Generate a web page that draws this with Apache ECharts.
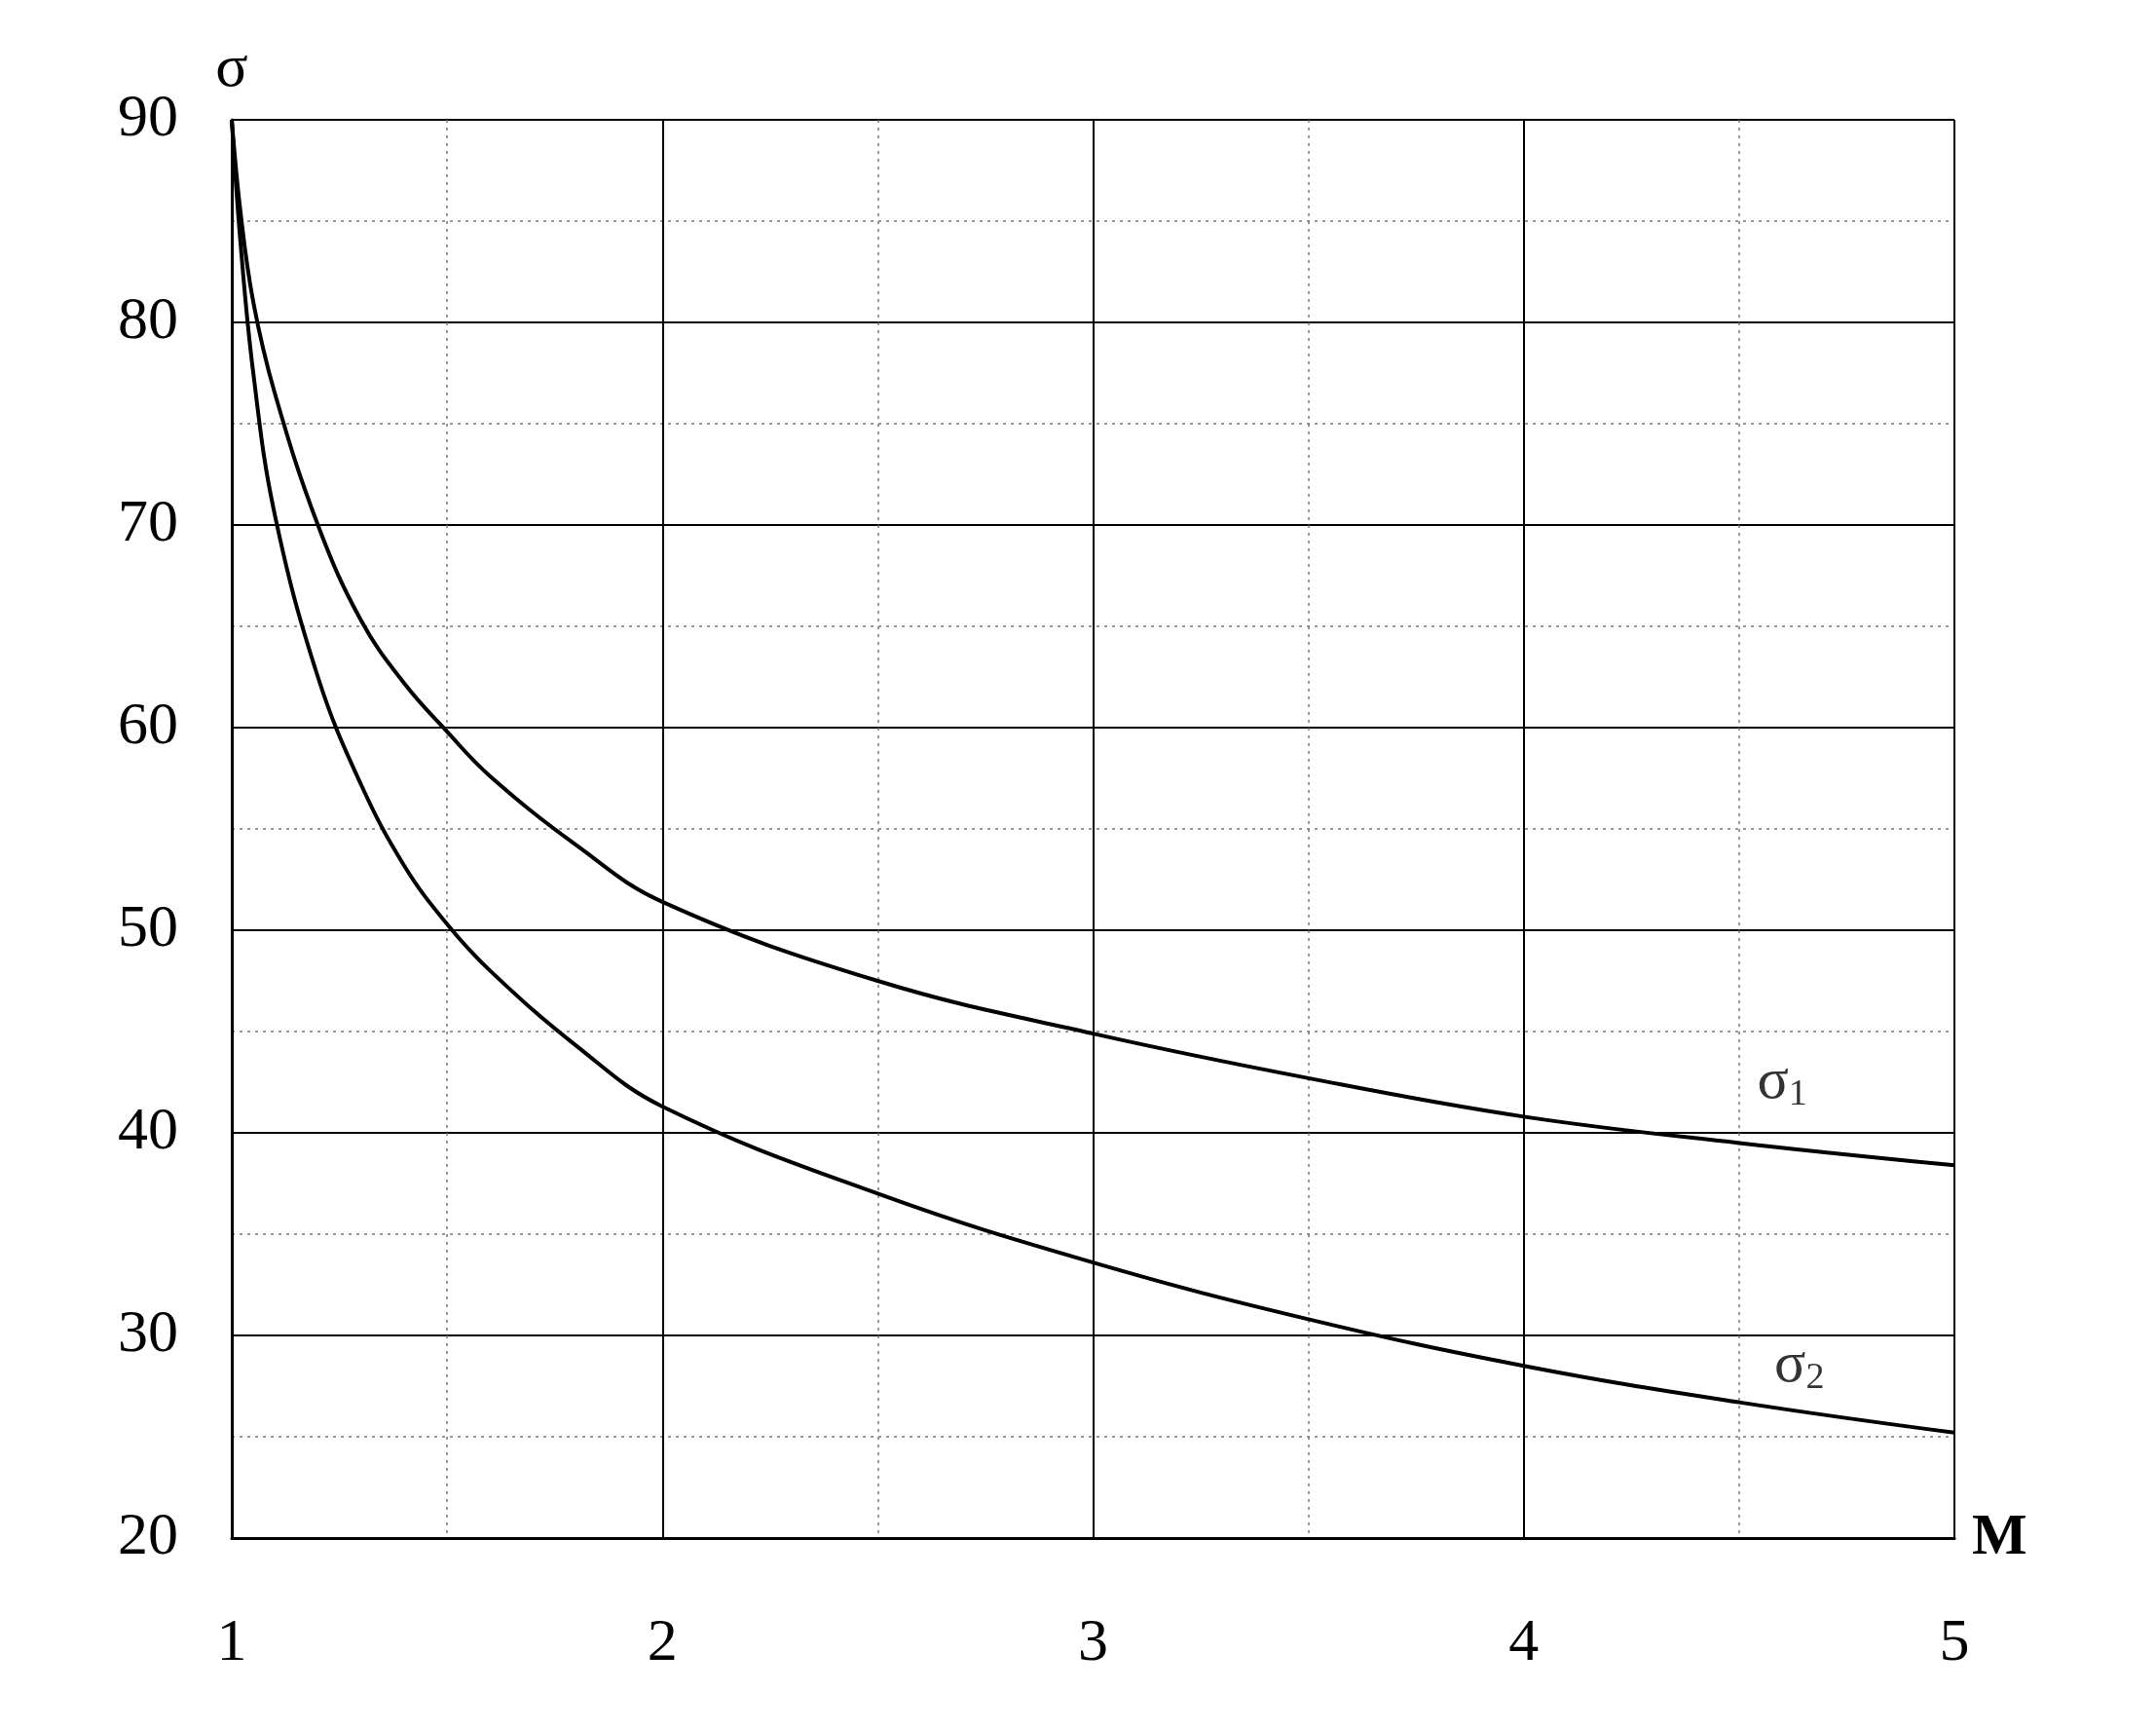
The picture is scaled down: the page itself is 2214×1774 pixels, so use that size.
<!DOCTYPE html>
<html>
<head>
<meta charset="utf-8">
<script src="https://cdn.jsdelivr.net/npm/echarts@6/dist/echarts.min.js"></script>
<style>html,body{margin:0;padding:0;background:#fff}#chart{width:2214px;height:1774px}</style>
</head>
<body>
<div id="chart"></div>
<script>
// M values and sigma curves
var mach = [1, 1.02, 1.05, 1.1, 1.2, 1.3, 1.4, 1.5, 1.6, 1.8, 2, 2.5, 3, 3.5, 4, 4.5, 5];
var sigma1 = [90, 85.5, 81, 76.5, 70, 65.3, 62.2, 59.8, 57.6, 54.2, 51.4, 47.5, 44.9, 42.7, 40.8, 39.5, 38.4];
var sigma2 = [90, 84, 77.5, 70.5, 62.5, 57.2, 53.2, 50.3, 48, 44.3, 41.3, 37, 33.6, 30.8, 28.5, 26.7, 25.2];
var xTicks = [1, 2, 3, 4, 5];
var yTicks = [20, 30, 40, 50, 60, 70, 80, 90];
var curveLabels = [[4.6, 42.5, '1'], [4.64, 28.5, '2']];

var font = '"Liberation Serif", "DejaVu Serif", serif';
var chart = echarts.init(document.getElementById('chart'));

function pairs(xs, ys) {
    var out = [];
    for (var i = 0; i < xs.length; i++) out.push([xs[i], ys[i]]);
    return out;
}

var option = {
    backgroundColor: '#fff',
    animation: false,
    grid: {left: 238, right: 207, top: 123, bottom: 195},
    xAxis: {
        type: 'value', min: 1, max: 5, interval: 1,
        name: 'M', nameLocation: 'end', nameGap: 18,
        nameTextStyle: {fontFamily: font, fontSize: 60, fontWeight: 'bold', color: '#000', verticalAlign: 'middle', padding: [0, 0, -10, 0]},
        axisLine: {lineStyle: {color: '#000', width: 3}},
        axisTick: {show: false},
        axisLabel: {fontFamily: font, fontSize: 62, color: '#000', margin: 78,
            formatter: function (v) { return xTicks.indexOf(v) >= 0 ? v : ''; }},
        splitLine: {show: true, lineStyle: {color: '#000', width: 2}},
        minorTick: {show: false, splitNumber: 2},
        minorSplitLine: {show: true, lineStyle: {color: '#777', width: 1.5, type: [3, 5]}}
    },
    yAxis: {
        type: 'value', min: 20, max: 90, interval: 10,
        name: 'σ', nameLocation: 'end', nameGap: 20,
        nameTextStyle: {fontFamily: font, fontSize: 62, color: '#000', align: 'center'},
        axisLine: {show: true, lineStyle: {color: '#000', width: 3}},
        axisTick: {show: false},
        axisLabel: {fontFamily: font, fontSize: 62, color: '#000', margin: 55,
            formatter: function (v) { return yTicks.indexOf(v) >= 0 ? v : ''; }},
        splitLine: {show: true, lineStyle: {color: '#000', width: 2}},
        minorTick: {show: false, splitNumber: 2},
        minorSplitLine: {show: true, lineStyle: {color: '#777', width: 1.5, type: [3, 5]}}
    },
    series: [
        {type: 'line', data: pairs(mach, sigma1), smooth: 0.4, symbol: 'none',
            lineStyle: {color: '#000', width: 4}},
        {type: 'line', data: pairs(mach, sigma2), smooth: 0.4, symbol: 'none',
            lineStyle: {color: '#000', width: 4}},
        {type: 'scatter', symbolSize: 0,
            data: curveLabels.map(function (d) { return {value: [d[0], d[1]], sub: d[2]}; }),
            label: {show: true, position: 'inside',
                formatter: function (p) { return '{s|σ}{b|' + p.data.sub + '}'; },
                rich: {
                    s: {fontFamily: font, fontSize: 60, color: '#000'},
                    b: {fontFamily: font, fontSize: 38, color: '#000', padding: [26, 0, 0, 0]}
                }}}
    ]
};
chart.setOption(option);
</script>
</body>
</html>
